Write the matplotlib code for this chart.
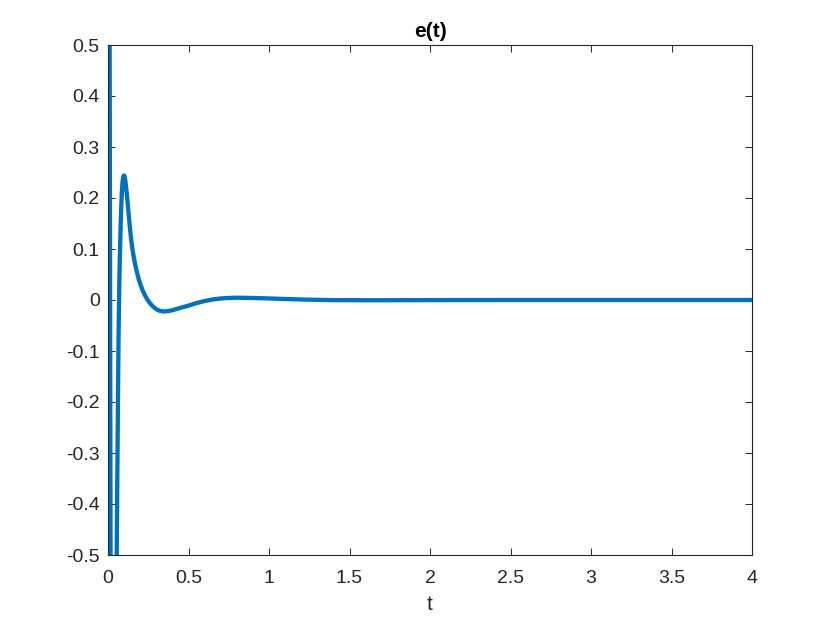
import matplotlib
matplotlib.use("Agg")
import matplotlib.pyplot as plt

t = [0.000, 0.008, 0.013, 0.018, 0.025, 0.033, 0.044, 0.054, 0.058, 0.062,
     0.066, 0.070, 0.074, 0.078, 0.082, 0.086, 0.090, 0.094, 0.098, 0.101,
     0.104, 0.108, 0.112, 0.116, 0.120, 0.125, 0.130, 0.135, 0.140, 0.145,
     0.150, 0.160, 0.170, 0.180, 0.190, 0.200, 0.215, 0.230, 0.246, 0.260,
     0.280, 0.300, 0.320, 0.344, 0.370, 0.400, 0.450, 0.500, 0.550, 0.600,
     0.650, 0.700, 0.750, 0.800, 0.900, 1.000, 1.100, 1.200, 1.300, 1.400,
     1.600, 1.800, 2.000, 2.500, 3.000, 3.500, 4.000]
e = [1.000, 0.900, 0.000, -0.900, -1.100, -1.000, -0.750, -0.500, -0.340, -0.190,
     -0.060, 0.030, 0.090, 0.140, 0.180, 0.210, 0.230, 0.240, 0.244, 0.244,
     0.241, 0.233, 0.222, 0.210, 0.197, 0.180, 0.162, 0.145, 0.130, 0.116,
     0.104, 0.084, 0.068, 0.054, 0.042, 0.032, 0.019, 0.009, 0.000, -0.006,
     -0.013, -0.018, -0.021, -0.0225, -0.022, -0.020, -0.0155, -0.011, -0.006, -0.002,
     0.001, 0.003, 0.004, 0.0045, 0.004, 0.003, 0.002, 0.001, 0.0003, -0.0002,
     -0.0005, -0.0004, -0.0002, 0.000, 0.000, 0.000, 0.000]

xticks = [0, 0.5, 1, 1.5, 2, 2.5, 3, 3.5, 4]
xtick_labels = ["0", "0.5", "1", "1.5", "2", "2.5", "3", "3.5", "4"]
yticks = [-0.5, -0.4, -0.3, -0.2, -0.1, 0, 0.1, 0.2, 0.3, 0.4, 0.5]
ytick_labels = ["-0.5", "-0.4", "-0.3", "-0.2", "-0.1", "0", "0.1", "0.2", "0.3", "0.4", "0.5"]

plt.rcParams['font.family'] = ['Liberation Sans', 'DejaVu Sans']

fig = plt.figure(figsize=(8.3, 6.23), dpi=100)
ax = fig.add_axes([108/830, 68/623, 644/830, 510/623])
ax.plot(t, e, color='#0072BD', linewidth=3.1, solid_joinstyle='round')
ax.set_xlim(0, 4)
ax.set_ylim(-0.5, 0.5)
ax.set_xticks(xticks)
ax.set_xticklabels(xtick_labels)
ax.set_yticks(yticks)
ax.set_yticklabels(ytick_labels)
ax.tick_params(direction='in', length=5, width=0.7, color='#262626',
               labelsize=14, labelcolor='#262626', top=True, right=True)
ax.tick_params(axis='x', pad=10.5)
ax.tick_params(axis='y', pad=6)
for s in ax.spines.values():
    s.set_color('#262626')
    s.set_linewidth(0.8)
ax.set_title('e(t)', fontsize=15, fontweight='bold', color='#000000', pad=6)
ax.set_xlabel('t', fontsize=15, color='#262626', labelpad=6)
fig.savefig('out.png', dpi=100, facecolor='white')
